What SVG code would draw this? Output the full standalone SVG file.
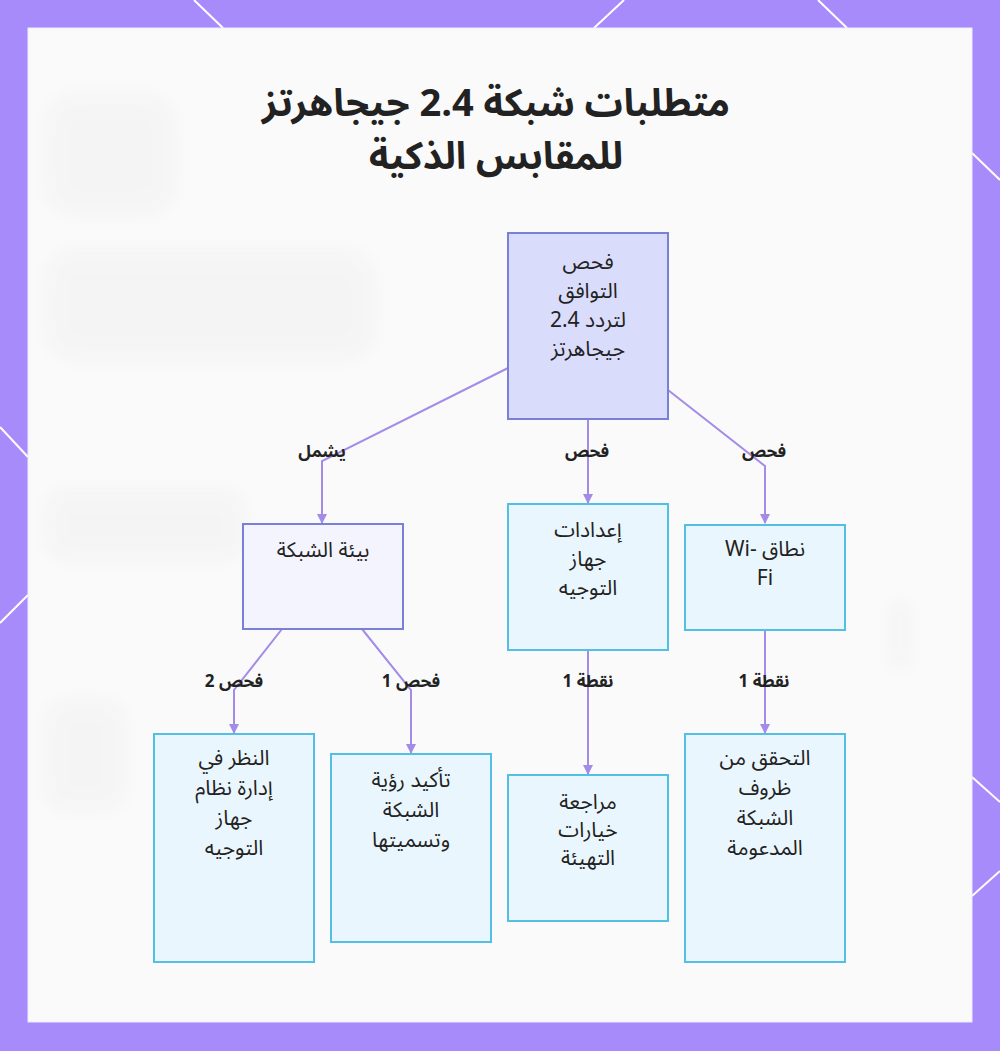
<svg xmlns="http://www.w3.org/2000/svg" width="1000" height="1051" viewBox="0 0 1000 1051">
<defs>
<style>
.t{font-family:"Noto Sans Arabic","Noto Naskh Arabic","DejaVu Sans",sans-serif;fill:#222;direction:rtl;text-anchor:middle;dominant-baseline:central}
.title{font-size:38px;font-weight:bold}
.nl{font-size:21px}
.el{font-size:17px;font-weight:bold}
.root{fill:#d9dcfb;stroke:#7a80d8;stroke-width:2}
.soft{fill:#f4f4fe;stroke:#7a80d8;stroke-width:2}
.leaf{fill:#eaf6fd;stroke:#54bfe5;stroke-width:2}
.edge{fill:none;stroke:#a48be8;stroke-width:2;marker-end:url(#ah)}
.deco{stroke:#ffffff;stroke-width:2;fill:none}
</style>
<marker id="ah" viewBox="0 0 10 10" refX="9" refY="5" markerWidth="5" markerHeight="5" orient="auto-start-reverse">
<path d="M0,0 L10,5 L0,10 z" fill="#a48be8"/>
</marker>
<filter id="blur" x="-30%" y="-30%" width="160%" height="160%"><feGaussianBlur stdDeviation="10"/></filter>
</defs>
<rect x="0" y="0" width="1000" height="1051" fill="#a78bfa"/>
<g class="deco">
<line x1="194" y1="0" x2="223" y2="28"/>
<line x1="624" y1="0" x2="594" y2="28"/>
<line x1="818" y1="0" x2="847" y2="28"/>
<line x1="972" y1="153" x2="1000" y2="180"/>
<line x1="972" y1="777" x2="1000" y2="802"/>
<line x1="972" y1="896" x2="1000" y2="871"/>
<line x1="0" y1="427" x2="28" y2="457"/>
<line x1="28" y1="595" x2="0" y2="623"/>
</g>
<rect x="28" y="28" width="944" height="994" fill="#fafafa" stroke="#efeafd" stroke-width="1"/>
<g opacity="0.025" filter="url(#blur)" fill="#333">
<rect x="45" y="95" width="130" height="120" rx="30"/>
<rect x="45" y="250" width="330" height="110" rx="30"/>
<rect x="45" y="490" width="200" height="70" rx="20"/>
<rect x="890" y="600" width="20" height="70" rx="8"/>
<rect x="45" y="700" width="80" height="110" rx="20"/>
</g>
<g id="title">
<text class="t title"><tspan x="496" y="104">متطلبات شبكة 2.4 جيجاهرتز</tspan><tspan x="496" y="157">للمقابس الذكية</tspan></text>
</g>
<g id="connectors">
<polyline class="edge" points="508,368 322,461 322,523"/>
<polyline class="edge" points="588,420 588,503"/>
<polyline class="edge" points="668,390 765,466 765,523"/>
<polyline class="edge" points="282,629 234,690 234,733"/>
<polyline class="edge" points="362,629 411,690 411,753"/>
<polyline class="edge" points="588,650 588,774"/>
<polyline class="edge" points="765,630 765,733"/>
<text class="t el" x="322" y="452">يشمل</text>
<text class="t el" x="587" y="452">فحص</text>
<text class="t el" x="764" y="452">فحص</text>
<text class="t el" x="234" y="682">فحص 2</text>
<text class="t el" x="411" y="682">فحص 1</text>
<text class="t el" x="588" y="682">نقطة 1</text>
<text class="t el" x="764" y="682">نقطة 1</text>
</g>
<g id="n-root">
<rect class="root" x="508" y="233" width="160" height="186"/>
<text class="t nl"><tspan x="588" y="262">فحص</tspan><tspan x="588" y="291">التوافق</tspan><tspan x="588" y="320">لتردد 2.4</tspan><tspan x="588" y="349">جيجاهرتز</tspan></text>
</g>
<g id="n-env">
<rect class="soft" x="243" y="524" width="160" height="105"/>
<text class="t nl" x="323" y="550">بيئة الشبكة</text>
</g>
<g id="n-router">
<rect class="leaf" x="508" y="504" width="160" height="146"/>
<text class="t nl"><tspan x="588" y="530">إعدادات</tspan><tspan x="588" y="559">جهاز</tspan><tspan x="588" y="588">التوجيه</tspan></text>
</g>
<g id="n-wifi">
<rect class="leaf" x="685" y="525" width="160" height="105"/>
<text class="t nl"><tspan x="765" y="549">نطاق Wi-&#x200E;</tspan><tspan x="765" y="578">Fi</tspan></text>
</g>
<g id="n-mgmt">
<rect class="leaf" x="154" y="734" width="160" height="228"/>
<text class="t nl"><tspan x="234" y="758">النظر في</tspan><tspan x="234" y="788">إدارة نظام</tspan><tspan x="234" y="818">جهاز</tspan><tspan x="234" y="848">التوجيه</tspan></text>
</g>
<g id="n-visibility">
<rect class="leaf" x="331" y="754" width="160" height="188"/>
<text class="t nl"><tspan x="411" y="780">تأكيد رؤية</tspan><tspan x="411" y="810">الشبكة</tspan><tspan x="411" y="840">وتسميتها</tspan></text>
</g>
<g id="n-options">
<rect class="leaf" x="508" y="775" width="160" height="146"/>
<text class="t nl"><tspan x="588" y="802">مراجعة</tspan><tspan x="588" y="830">خيارات</tspan><tspan x="588" y="858">التهيئة</tspan></text>
</g>
<g id="n-conditions">
<rect class="leaf" x="685" y="734" width="160" height="228"/>
<text class="t nl"><tspan x="765" y="758">التحقق من</tspan><tspan x="765" y="788">ظروف</tspan><tspan x="765" y="818">الشبكة</tspan><tspan x="765" y="848">المدعومة</tspan></text>
</g>
</svg>
